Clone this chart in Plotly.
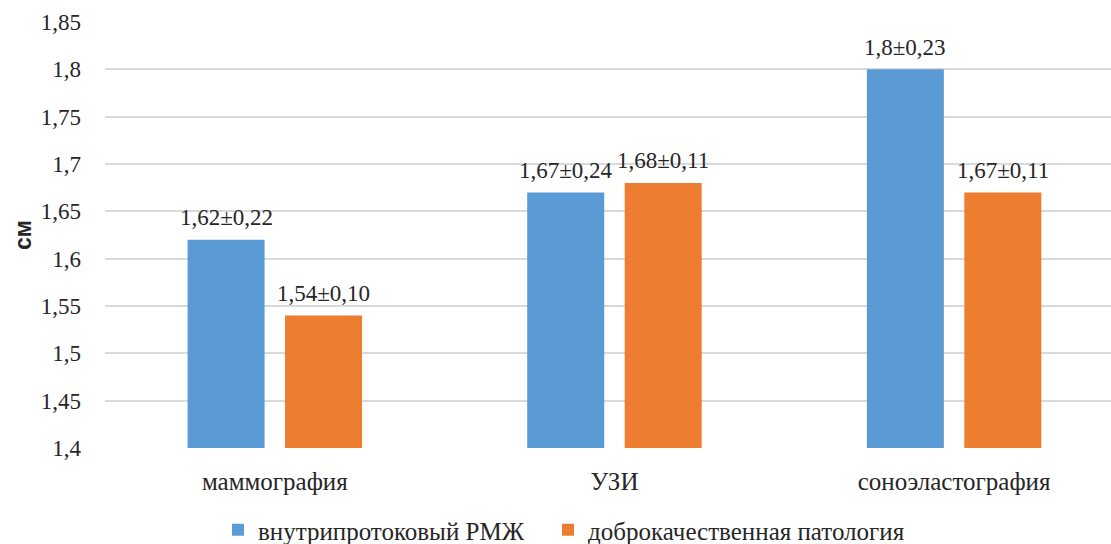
import plotly.graph_objects as go

categories = ["маммография", "УЗИ", "соноэластография"]
series_names = ["внутрипротоковый РМЖ", "доброкачественная патология"]
mean_rmzh = [1.62, 1.67, 1.8]
sd_rmzh = [0.22, 0.24, 0.23]
mean_benign = [1.54, 1.68, 1.67]
sd_benign = [0.10, 0.11, 0.11]
y_ticks = [1.4, 1.45, 1.5, 1.55, 1.6, 1.65, 1.7, 1.75, 1.8, 1.85]

colors = ["#5B9BD5", "#ED7D31"]


def fmt_num(v):
    s = ("%g" % v)
    return s.replace(".", ",")


def labels(means, sds):
    return [f"{fmt_num(m)}±{sd:.2f}".replace(".", ",") for m, sd in zip(means, sds)]


serif = "Liberation Serif"
txt_color = "#262626"
PLOT_L, PLOT_W, PLOT_B, PLOT_H = 105, 1006, 448, 426

fig = go.Figure()
series = [
    (series_names[0], mean_rmzh, sd_rmzh, colors[0], -48.75, "legend"),
    (series_names[1], mean_benign, sd_benign, colors[1], 48.75, "legend2"),
]
annotations = []
for name, means, sds, col, dx, leg in series:
    fig.add_trace(go.Bar(
        x=categories, y=means, name=name, legend=leg,
        marker=dict(color=col, line=dict(width=0)),
    ))
    for cat, m, lab in zip(categories, means, labels(means, sds)):
        annotations.append(dict(
            x=cat, y=m, text=lab, showarrow=False, xref="x", yref="y",
            xanchor="center", yanchor="middle", xshift=dx, yshift=22,
            font=dict(family=serif, size=23, color=txt_color),
        ))

annotations.append(dict(
    text="<b>см</b>", xref="paper", yref="paper",
    x=-(PLOT_L - 23) / PLOT_W, y=(PLOT_B - 235) / PLOT_H,
    xanchor="center", yanchor="middle", textangle=-90, showarrow=False,
    font=dict(family="Liberation Sans", size=23, color=txt_color)))

legend_common = dict(orientation="h", xanchor="left",
                     y=(PLOT_B - 530) / PLOT_H, yanchor="middle",
                     font=dict(family=serif, size=25, color=txt_color),
                     itemwidth=30, bgcolor="rgba(0,0,0,0)")

fig.update_layout(
    width=1111, height=544,
    margin=dict(l=PLOT_L, r=0, t=22, b=96, autoexpand=False),
    plot_bgcolor="white", paper_bgcolor="white",
    barmode="group", bargap=0.426, bargroupgap=0.21,
    font=dict(family=serif, size=23, color=txt_color),
    showlegend=True,
    legend=dict(x=(218 - PLOT_L) / PLOT_W, **legend_common),
    legend2=dict(x=(548 - PLOT_L) / PLOT_W, **legend_common),
    xaxis=dict(range=[-0.5, 2.462], showgrid=False, showline=False, ticks="",
               tickfont=dict(family=serif, size=25, color=txt_color),
               ticklabelstandoff=16),
    yaxis=dict(range=[1.4, 1.85], tickvals=y_ticks,
               ticktext=[fmt_num(v) for v in y_ticks],
               showgrid=True, gridcolor="#D9D9D9", gridwidth=2,
               zeroline=False, showline=False, ticks="",
               tickfont=dict(family=serif, size=23, color=txt_color),
               ticklabelstandoff=23),
    annotations=annotations,
)

fig.write_html("out.html")
